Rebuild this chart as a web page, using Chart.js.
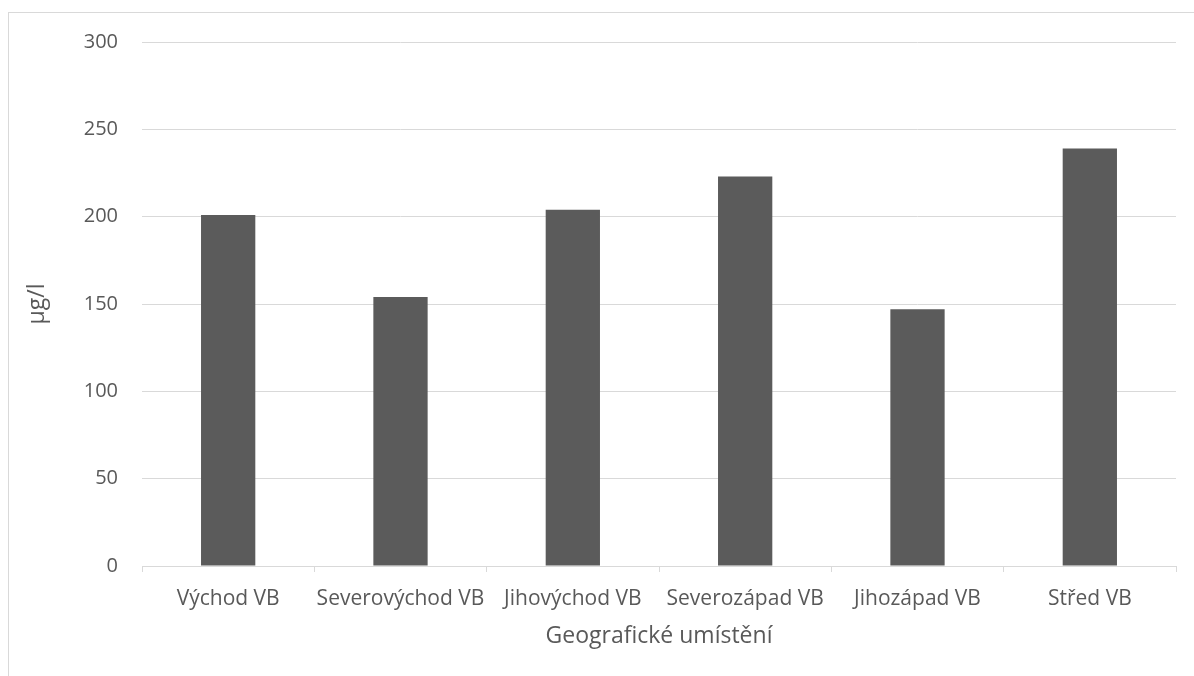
<!DOCTYPE html>
<html lang="cs">
<head>
<meta charset="UTF-8">
<title>Graf</title>
<style>
  html, body { margin: 0; padding: 0; background: #fff; }
  #wrap { position: relative; width: 1194px; height: 676px; overflow: hidden; }
  #frame { position: absolute; left: 8px; top: 12px; width: 1300px; height: 800px; border: 1px solid #d9d9d9; }
  canvas { position: absolute; left: 0; top: 0; }
</style>
</head>
<body>
<div id="wrap">
  <div id="frame"></div>
  <canvas id="myChart" width="1194" height="676"></canvas>
</div>
<script src="https://cdn.jsdelivr.net/npm/chart.js"></script>
<script>
  // data
  let v_labels = ['Východ VB', 'Severovýchod VB', 'Jihovýchod VB', 'Severozápad VB', 'Jihozápad VB', 'Střed VB'];
  let v_values = [201, 154, 204, 223, 147, 239];
  let v_yTitle = 'µg/l';
  let v_xTitle = 'Geografické umístění';

  let v_font = 'Open Sans';
  let v_text = '#595959';

  let ctx = document.getElementById('myChart');
  new Chart(ctx, {
    type: 'bar',
    data: {
      labels: v_labels,
      datasets: [{
        data: v_values,
        backgroundColor: '#5b5b5b',
        categoryPercentage: 1,
        barPercentage: 0.315
      }]
    },
    options: {
      responsive: false,
      animation: false,
      layout: { padding: { left: 0, top: 42, right: 18, bottom: 26 } },
      plugins: { legend: { display: false }, tooltip: { enabled: false } },
      scales: {
        y: {
          min: 0,
          max: 300,
          ticks: { stepSize: 50, padding: 24, color: v_text, font: { family: v_font, size: 20 } },
          grid: { color: '#d9d9d9', drawTicks: false, lineWidth: 1 },
          border: { display: false },
          title: { display: true, text: v_yTitle, color: v_text, font: { family: v_font, size: 23 }, padding: { top: 24, bottom: 0 } },
          afterFit: function (axis) { axis.width = 142; }
        },
        x: {
          ticks: { padding: 14, minRotation: 0, maxRotation: 0, autoSkip: false, color: v_text, font: { family: v_font, size: 21 } },
          grid: { offset: true, drawOnChartArea: false, tickLength: 6, tickColor: '#d9d9d9' },
          border: { display: true, color: '#d9d9d9' },
          title: { display: true, text: v_xTitle, color: v_text, font: { family: v_font, size: 23 }, padding: { top: 0, bottom: 0 } },
          afterFit: function (axis) { axis.height = 84; }
        }
      }
    }
  });
</script>
</body>
</html>
